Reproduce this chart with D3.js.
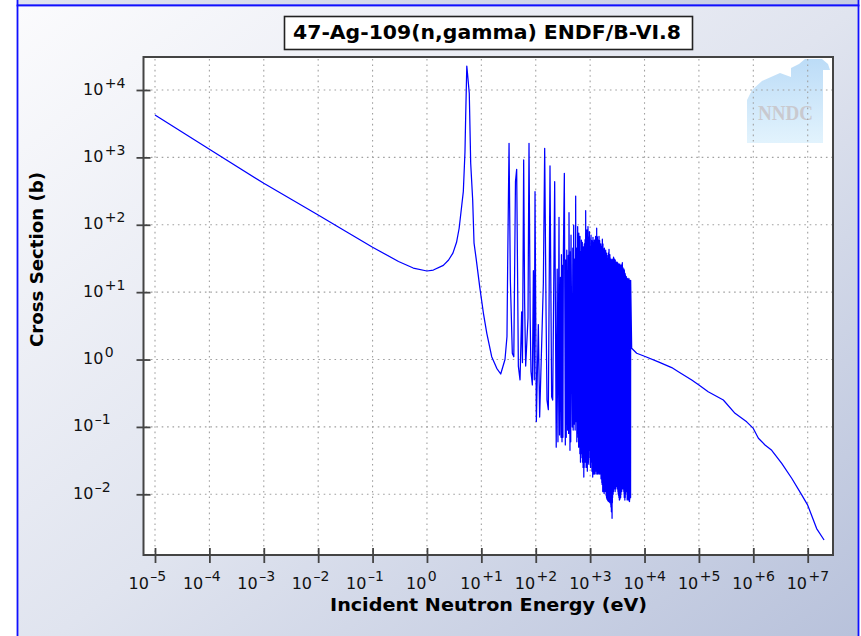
<!DOCTYPE html>
<html><head><meta charset="utf-8">
<script src="https://cdn.jsdelivr.net/npm/d3@7"></script>
<style>html,body{margin:0;padding:0;background:#fff;}svg{display:block;}</style>
</head><body>
<svg id="chart" width="861" height="636"></svg>
<script>
// ---------- data ----------
const chartTitle = "47-Ag-109(n,gamma) ENDF/B-VI.8";
const xAxisTitle = "Incident Neutron Energy (eV)";
const yAxisTitle = "Cross Section (b)";
const logoText = "NNDC";
const xTickExponents = [-5, -4, -3, -2, -1, 0, 1, 2, 3, 4, 5, 6, 7];
const yTickExponents = [-2, -1, 0, 1, 2, 3, 4];

// [energy (eV), cross section (b)]
const thermalRegion = [
  [1e-5, 4250], [1e-4, 1320], [1e-3, 412], [1e-2, 140], [0.033, 79], [0.1, 46.5],
  [0.3, 28.5], [0.56, 22.8], [1.0, 20.6], [1.31, 21.3], [2.0, 25], [2.5, 30],
  [3.0, 38], [3.5, 55], [3.9, 88], [4.35, 190], [4.66, 310], [5.0, 1200],
  [5.15, 4000], [5.4, 22700], [5.55, 18000], [6.0, 8900], [6.37, 816],
  [6.93, 233], [7.33, 54], [8.0, 32], [9.4, 11.5], [10.9, 4.9], [12.6, 2.45],
  [15.5, 1.1], [19.2, 0.74], [22.7, 0.61], [27.2, 1.0]
];
const resolvedRegion = [
  [29.6, 2.2], [30.5, 27], [32.3, 1620], [34.1, 15.5], [37.1, 1.24], [39.5, 1.1],
  [42.4, 436], [44.6, 665], [47.9, 0.8], [51.4, 0.5], [55.1, 5.1], [57.0, 0.9],
  [60.0, 915], [62.5, 6.8], [65.3, 0.8], [72.0, 4.1], [75.2, 1620], [79.0, 4.1],
  [81.8, 0.66], [86.6, 0.42], [90.5, 20.8], [94.0, 0.5], [97.0, 310], [102.6, 0.12],
  [111.6, 3.3], [118, 0.14], [138, 13.5], [146, 1362], [155, 4.3], [161, 0.25],
  [170.5, 0.18], [182.9, 745], [196, 0.28], [205, 0.25], [222.9, 436], [238, 0.05],
  [248, 22], [256, 0.06], [267.8, 129], [274, 0.076], [285, 16.6], [292, 0.07],
  [297, 36], [304, 0.06], [310, 25], [316, 0.07], [322, 37], [335.6, 580],
  [350, 0.054], [358, 30], [364, 0.07], [372, 42], [385, 0.09], [395, 35],
  [402, 0.08], [408.9, 151], [426, 0.045], [435, 40], [440, 0.06], [445, 70],
  [470, 0.1], [480, 45], [488, 0.09], [498.2, 99], [510, 0.11], [522, 31],
  [530, 0.09], [542.2, 267], [553, 0.12], [562, 45], [570, 0.06], [578, 28],
  [584, 0.08], [590, 94], [603, 0.07], [611, 38], [615, 0.05], [620, 75],
  [640, 0.063], [645, 22], [648, 0.04], [651, 67], [665, 0.03], [672, 40],
  [679, 0.05], [685, 26], [688, 0.04], [692, 59], [710, 0.035], [718, 55],
  [726, 0.03], [735, 30], [742, 0.025], [750, 47], [765, 0.018], [773, 35],
  [777, 0.025], [782, 52], [800, 0.03], [808, 60], [814, 0.03], [820, 41],
  [824, 0.04], [828, 162], [845, 0.025], [853, 70], [860, 0.03], [867, 45],
  [871, 0.035], [875, 84], [888, 0.022], [897, 61], [905, 0.03], [913, 94],
  [925, 0.05], [935, 55], [944, 0.028], [952, 66], [960, 0.035], [968, 79],
  [995, 0.045], [1008, 48], [1017, 0.025], [1026, 62], [1032, 0.03], [1038, 70],
  [1060, 0.05], [1072, 58], [1080, 0.022], [1089, 44], [1094, 0.03], [1098, 50],
  [1115, 0.018], [1128, 65], [1138, 0.025], [1150, 48], [1160, 0.02], [1172, 55],
  [1183, 0.025], [1195, 59], [1210, 0.02], [1225, 52], [1234, 0.022], [1246, 60],
  [1253, 0.025], [1260, 67], [1290, 0.02], [1300, 48], [1308, 0.024], [1319, 89],
  [1345, 0.022], [1358, 66], [1368, 0.02], [1380, 52], [1390, 0.024], [1400, 59],
  [1425, 0.021], [1437, 55], [1446, 0.02], [1456, 67], [1485, 0.025], [1498, 58],
  [1510, 0.02], [1522, 46], [1532, 0.022], [1540, 50], [1560, 0.021], [1573, 52],
  [1585, 0.017], [1597, 42], [1603, 0.02], [1610, 47], [1640, 0.015], [1650, 48],
  [1662, 0.014], [1677, 61], [1705, 0.011], [1720, 52], [1733, 0.012], [1748, 44],
  [1760, 0.011], [1774, 36], [1810, 0.0103], [1828, 45], [1842, 0.011], [1860, 35],
  [1870, 0.012], [1880, 40], [1910, 0.012], [1920, 33], [1925, 0.011], [1931, 42],
  [1975, 0.0095], [1992, 38], [2005, 0.009], [2020, 32], [2032, 0.0085], [2043, 27],
  [2090, 0.0082], [2108, 35], [2122, 0.008], [2140, 30], [2150, 0.008], [2160, 38],
  [2190, 0.0078], [2205, 36], [2214, 0.0085], [2223, 43], [2270, 0.009], [2283, 30],
  [2296, 0.0075], [2308, 36], [2314, 0.008], [2320, 33], [2370, 0.0078], [2385, 28],
  [2398, 0.007], [2408, 31], [2414, 0.0065], [2420, 12], [2460, 0.0055], [2473, 29],
  [2481, 0.006], [2489, 27], [2530, 0.0044], [2548, 31], [2562, 0.0075], [2578, 26],
  [2588, 0.009], [2597, 30], [2650, 0.01], [2666, 29], [2680, 0.011], [2694, 33],
  [2702, 0.012], [2709, 32.5], [2760, 0.013], [2775, 28], [2790, 0.012], [2805, 31],
  [2815, 0.012], [2826, 28], [2880, 0.011], [2898, 30], [2912, 0.012], [2928, 25],
  [2938, 0.013], [2948, 27], [3010, 0.0145], [3035, 28], [3055, 0.013], [3080, 26],
  [3100, 0.014], [3120, 28], [3135, 0.012], [3150, 27.4], [3200, 0.013], [3225, 27],
  [3245, 0.011], [3270, 24], [3285, 0.01], [3300, 25], [3350, 0.0095], [3370, 26],
  [3385, 0.009], [3396, 26], [3450, 0.0082], [3475, 25], [3495, 0.009], [3520, 26],
  [3540, 0.0085], [3565, 23], [3578, 0.009], [3590, 24], [3640, 0.009], [3660, 25],
  [3678, 0.01], [3695, 24], [3760, 0.011], [3785, 25], [3810, 0.011], [3835, 26],
  [3860, 0.012], [3880, 23], [3895, 0.013], [3910, 27.4], [3990, 0.014], [4020, 23],
  [4045, 0.012], [4079, 21], [4160, 0.011], [4190, 22], [4215, 0.01], [4235, 20],
  [4245, 0.009], [4256, 21], [4350, 0.0082], [4385, 19], [4420, 0.009], [4455, 18],
  [4480, 0.01], [4503, 16], [4600, 0.012], [4630, 17], [4660, 0.011], [4698, 16],
  [4800, 0.0082], [4835, 16], [4870, 0.0085], [4901, 15.5], [5000, 0.009], [5025, 15],
  [5038, 0.0085], [5050, 15.5], [5120, 0.0082], [5150, 16], [5168, 0.008], [5185, 15.5],
  [5300, 0.0078], [5340, 15], [5375, 0.0085], [5409, 5], [5500, 0.009], [5520, 14],
  [5540, 0.009], [5560, 15]
];
const fastRegion = [
  [5800, 1.47], [7180, 1.24], [1e4, 1.12], [17950, 0.925], [31600, 0.76],
  [41900, 0.66], [73800, 0.496], [1e5, 0.418], [148000, 0.333], [281000, 0.251],
  [461000, 0.159], [755000, 0.119], [1e6, 0.095], [1.24e6, 0.068], [1.64e6, 0.054],
  [2.18e6, 0.045], [3.33e6, 0.0288], [5.08e6, 0.0173], [7.76e6, 0.0098], [1e7, 0.0069],
  [1.46e7, 0.0031], [2e7, 0.0021]
];

// ---------- layout ----------
const svg = d3.select("#chart");
const plot = {left: 143.5, right: 833, top: 57, bottom: 555};
const x = d3.scaleLog().domain([1e-5, 1e7]).range([155, 807.7]);
const y = d3.scaleLog().domain([1e-2, 1e4]).range([494.3, 90]);
const FONT = "'DejaVu Sans', Verdana, sans-serif";

const defs = svg.append("defs");
const bg = defs.append("linearGradient").attr("id", "bg")
  .attr("x1", 0).attr("y1", 0).attr("x2", 1).attr("y2", 1);
bg.append("stop").attr("offset", 0).attr("stop-color", "#fbfbfd");
bg.append("stop").attr("offset", 0.5).attr("stop-color", "#e0e4ef");
bg.append("stop").attr("offset", 1).attr("stop-color", "#b6c0da");
const strip = defs.append("linearGradient").attr("id", "strip")
  .attr("x1", 0).attr("y1", 0).attr("x2", 1).attr("y2", 0);
strip.append("stop").attr("offset", 0).attr("stop-color", "#dfe3ee");
strip.append("stop").attr("offset", 1).attr("stop-color", "#c6cde2");
const logoGrad = defs.append("linearGradient").attr("id", "logoGrad")
  .attr("x1", 0).attr("y1", 0).attr("x2", 0).attr("y2", 1);
logoGrad.append("stop").attr("offset", 0).attr("stop-color", "#bcdcf7");
logoGrad.append("stop").attr("offset", 1).attr("stop-color", "#e2f3fd");
defs.append("clipPath").attr("id", "plotClip").append("rect")
  .attr("x", plot.left).attr("y", plot.top)
  .attr("width", plot.right - plot.left).attr("height", plot.bottom - plot.top);

// outer panels
svg.append("rect").attr("x", 17.5).attr("y", -30).attr("width", 841).attr("height", 35.5)
  .attr("fill", "url(#strip)").attr("stroke", "#1010ff").attr("stroke-width", 1.8);
svg.append("rect").attr("x", 17.5).attr("y", 5.5).attr("width", 841).attr("height", 660)
  .attr("fill", "url(#bg)").attr("stroke", "#1010ff").attr("stroke-width", 1.8);

// title box
svg.append("rect").attr("x", 284.5).attr("y", 16.5).attr("width", 408).attr("height", 33)
  .attr("fill", "#fff").attr("stroke", "#222").attr("stroke-width", 1.6);
svg.append("text").attr("x", 487).attr("y", 38.5).attr("text-anchor", "middle")
  .attr("font-family", FONT).attr("font-weight", "bold").attr("font-size", 19)
  .attr("textLength", 388).attr("lengthAdjust", "spacingAndGlyphs")
  .attr("fill", "#000").text(chartTitle);

// plot area
svg.append("rect").attr("x", plot.left).attr("y", plot.top)
  .attr("width", plot.right - plot.left).attr("height", plot.bottom - plot.top)
  .attr("fill", "#fff");

// NNDC logo (beneath grid)
const logo = svg.append("g");
logo.append("path")
  .attr("d", "M747,143 L747,100 L752,90 L762,81 L780,73 L791,77 L791,68 L799,64 L805,59 L822,59 L828,64 L830,70 L823,70 L823,143 Z")
  .attr("fill", "url(#logoGrad)");
logo.append("text").attr("x", 785.5).attr("y", 120).attr("text-anchor", "middle")
  .attr("font-family", "'Liberation Serif', 'DejaVu Serif', serif").attr("font-weight", "bold")
  .attr("font-size", 22).attr("textLength", 55).attr("lengthAdjust", "spacingAndGlyphs")
  .attr("fill", "#c9c9cf").text(logoText);

// grid
const grid = svg.append("g").attr("stroke", "#a0a0a0").attr("stroke-width", 1.1)
  .attr("stroke-dasharray", "1.6,3.8");
grid.selectAll("line.v").data(xTickExponents).join("line").attr("class", "v")
  .attr("x1", e => x(Math.pow(10, e))).attr("x2", e => x(Math.pow(10, e)))
  .attr("y1", plot.top + 2).attr("y2", plot.bottom - 1);
grid.selectAll("line.h").data(yTickExponents).join("line").attr("class", "h")
  .attr("y1", e => y(Math.pow(10, e))).attr("y2", e => y(Math.pow(10, e)))
  .attr("x1", plot.left + 2).attr("x2", plot.right - 1);

// data line
const series = thermalRegion.concat(resolvedRegion, fastRegion);
const line = d3.line().x(d => x(d[0])).y(d => y(d[1]));
svg.append("path").datum(series).attr("d", line)
  .attr("clip-path", "url(#plotClip)")
  .attr("fill", "none").attr("stroke", "#0000ff").attr("stroke-width", 1.25)
  .attr("stroke-linejoin", "round");

// frame
svg.append("rect").attr("x", plot.left).attr("y", plot.top)
  .attr("width", plot.right - plot.left).attr("height", plot.bottom - plot.top)
  .attr("fill", "none").attr("stroke", "#444").attr("stroke-width", 2);

// axes ticks
const xAxis = d3.axisBottom(x).tickValues(xTickExponents.map(e => Math.pow(10, e)))
  .tickSizeInner(8).tickSizeOuter(0).tickFormat("");
const gx = svg.append("g").attr("transform", `translate(0,${plot.bottom})`).call(xAxis);
gx.select(".domain").remove();
gx.selectAll(".tick line").attr("y1", -7).attr("y2", 8).attr("stroke", "#444").attr("stroke-width", 1.8);

const yAxis = d3.axisLeft(y).tickValues(yTickExponents.map(e => Math.pow(10, e)))
  .tickSizeInner(7).tickSizeOuter(0).tickFormat("");
const gy = svg.append("g").attr("transform", `translate(${plot.left},0)`).call(yAxis);
gy.select(".domain").remove();
gy.selectAll(".tick line").attr("x1", -7).attr("x2", 7).attr("stroke", "#444").attr("stroke-width", 1.8);

// tick labels
const supText = e => e > 0 ? "+" + e : (e < 0 ? "\u2013" + (-e) : "0");
function powerLabel(sel, xPos, yPos, e, supDy) {
  const t = sel.append("text").attr("x", xPos).attr("y", yPos)
    .attr("font-family", FONT).attr("font-size", 16).attr("fill", "#111");
  t.append("tspan").text("10");
  t.append("tspan").attr("dx", 1.5).attr("dy", supDy).attr("font-size", 14).text(supText(e));
}
const labels = svg.append("g");
xTickExponents.forEach(e => {
  powerLabel(labels, x(Math.pow(10, e)) - (e < 0 ? 26.5 : 21), 588.5, e, -8);
});
yTickExponents.forEach(e => {
  powerLabel(labels, e < 0 ? 73 : 83, y(Math.pow(10, e)) + 4.5, e, -7);
});

// axis titles
svg.append("text").attr("x", 488.5).attr("y", 611).attr("text-anchor", "middle")
  .attr("font-family", FONT).attr("font-weight", "bold").attr("font-size", 18)
  .attr("textLength", 317).attr("lengthAdjust", "spacingAndGlyphs")
  .attr("fill", "#000").text(xAxisTitle);
svg.append("text").attr("transform", "translate(42.5,259.5) rotate(-90)")
  .attr("text-anchor", "middle")
  .attr("font-family", FONT).attr("font-weight", "bold").attr("font-size", 18)
  .attr("textLength", 175).attr("lengthAdjust", "spacingAndGlyphs")
  .attr("fill", "#000").text(yAxisTitle);
</script>
</body></html>
